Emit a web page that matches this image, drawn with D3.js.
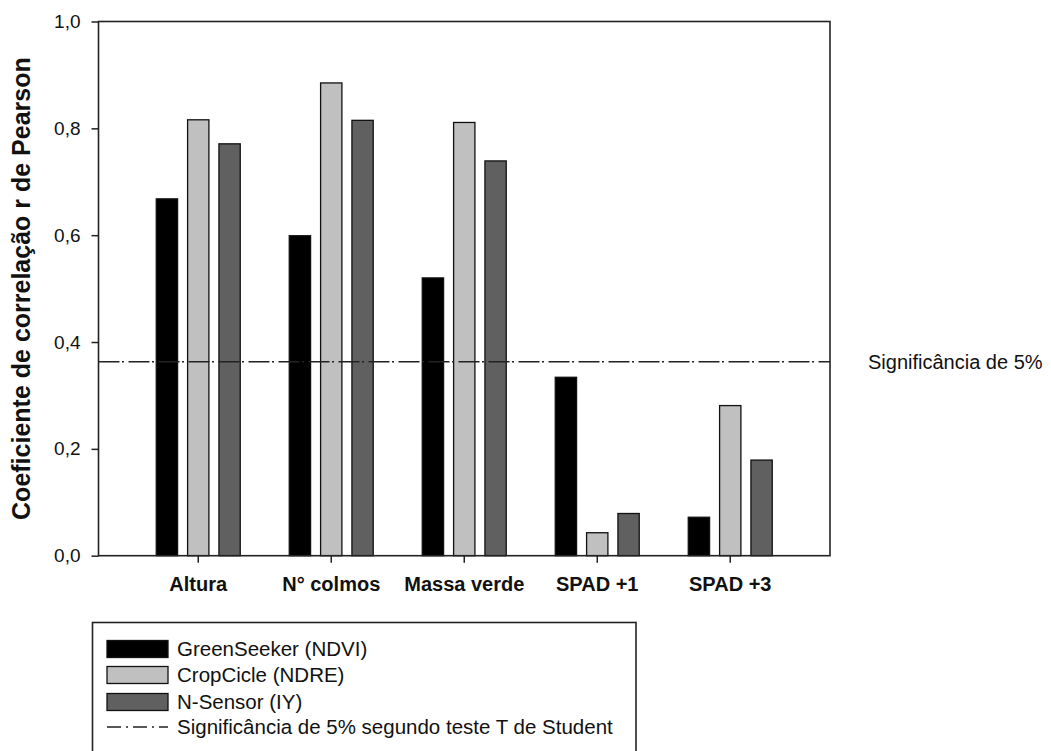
<!DOCTYPE html>
<html>
<head>
<meta charset="utf-8">
<script src="https://cdn.jsdelivr.net/npm/d3@7"></script>
<style>
  body { margin: 0; background: #fff; }
  svg { display: block; font-family: "Liberation Sans", Arial, sans-serif; }
</style>
</head>
<body>
<div id="chart"></div>
<script>
const categories = ['Altura', 'N° colmos', 'Massa verde', 'SPAD +1', 'SPAD +3'];
const seriesNames = ['GreenSeeker (NDVI)', 'CropCicle (NDRE)', 'N-Sensor (IY)'];
const greenSeeker = [0.668, 0.599, 0.520, 0.334, 0.072];
const cropCicle = [0.816, 0.885, 0.811, 0.043, 0.281];
const nSensor = [0.771, 0.815, 0.739, 0.079, 0.179];
const yTicks = [0, 0.2, 0.4, 0.6, 0.8, 1.0];
const significance = 0.363;
const significanceLabel = 'Significância de 5%';
const lineLegendLabel = 'Significância de 5% segundo teste T de Student';
const yTitle = 'Coeficiente de correlação r de Pearson';

const seriesValues = [greenSeeker, cropCicle, nSensor];
const fills = ['#000000', '#c0c0c0', '#606060'];

const width = 1051, height = 751;
const margin = { top: 21.5, right: 221, bottom: 195.3, left: 98.5 };

const svg = d3.select('#chart')
  .append('svg')
  .attr('width', width)
  .attr('height', height);

svg.append('rect').attr('width', width).attr('height', height).attr('fill', '#fff');

const x = d3.scaleBand()
  .domain(categories)
  .range([margin.left, width - margin.right])
  .paddingInner(0)
  .paddingOuter(0.25);

const groupWidth = 94;
const x1 = d3.scaleBand()
  .domain(seriesNames)
  .range([0, groupWidth])
  .paddingInner(0.32)
  .paddingOuter(0.16);

const y = d3.scaleLinear()
  .domain([0, 1])
  .range([height - margin.bottom, margin.top]);

// bars
const rows = [];
categories.forEach((c, i) => {
  seriesNames.forEach((s, j) => rows.push({ cat: c, name: s, value: seriesValues[j][i], fill: fills[j] }));
});

svg.append('g')
  .selectAll('rect')
  .data(rows)
  .join('rect')
  .attr('x', d => x(d.cat) + x.bandwidth() / 2 - groupWidth / 2 + x1(d.name))
  .attr('y', d => y(d.value))
  .attr('width', x1.bandwidth())
  .attr('height', d => y(0) - y(d.value))
  .attr('fill', d => d.fill)
  .attr('stroke', '#111')
  .attr('stroke-width', 1.3);

// significance line
svg.append('line')
  .attr('x1', margin.left)
  .attr('x2', width - margin.right)
  .attr('y1', y(significance))
  .attr('y2', y(significance))
  .attr('stroke', '#222')
  .attr('stroke-width', 1.5)
  .attr('stroke-dasharray', '21,2.5,2,4.5');

svg.append('text')
  .attr('x', 868)
  .attr('y', y(significance))
  .attr('dy', '0.35em')
  .attr('font-size', 20)
  .attr('fill', '#111')
  .text(significanceLabel);

// frame
svg.append('rect')
  .attr('x', margin.left)
  .attr('y', margin.top)
  .attr('width', width - margin.right - margin.left)
  .attr('height', height - margin.bottom - margin.top)
  .attr('fill', 'none')
  .attr('stroke', '#222')
  .attr('stroke-width', 1.6);

// axes
const fmt = d => d3.format('.1f')(d).replace('.', ',');

const yAxis = svg.append('g')
  .attr('transform', 'translate(' + margin.left + ',0)')
  .call(d3.axisLeft(y).tickValues(yTicks).tickFormat(fmt).tickSize(7).tickPadding(11));
yAxis.select('.domain').remove();
yAxis.selectAll('line').attr('stroke', '#222').attr('stroke-width', 1.5);
yAxis.selectAll('text').attr('font-size', 19).attr('fill', '#111').attr('font-family', '"Liberation Sans", Arial, sans-serif');

const xAxis = svg.append('g')
  .attr('transform', 'translate(0,' + (height - margin.bottom) + ')')
  .call(d3.axisBottom(x).tickSize(7).tickPadding(14));
xAxis.select('.domain').remove();
xAxis.selectAll('line').attr('stroke', '#222').attr('stroke-width', 1.5);
xAxis.selectAll('text').attr('font-size', 20).attr('font-weight', 'bold').attr('fill', '#111').attr('font-family', '"Liberation Sans", Arial, sans-serif');

// y title
svg.append('text')
  .attr('transform', 'translate(30,' + ((margin.top + height - margin.bottom) / 2) + ') rotate(-90)')
  .attr('text-anchor', 'middle')
  .attr('font-size', 25)
  .attr('font-weight', 'bold')
  .attr('fill', '#111')
  .text(yTitle);

// legend
const legend = svg.append('g');
legend.append('rect')
  .attr('x', 92.5).attr('y', 622.5)
  .attr('width', 543.5).attr('height', 140)
  .attr('fill', 'none').attr('stroke', '#222').attr('stroke-width', 1.6);

const rowY = [649, 675, 702, 727];
seriesNames.forEach((s, i) => {
  legend.append('rect')
    .attr('x', 107).attr('y', rowY[i] - 8.5)
    .attr('width', 61).attr('height', 17)
    .attr('fill', fills[i]).attr('stroke', '#111').attr('stroke-width', 1.3);
  legend.append('text')
    .attr('x', 177).attr('y', rowY[i]).attr('dy', '0.35em')
    .attr('font-size', 20.5).attr('fill', '#111')
    .text(s);
});
legend.append('line')
  .attr('x1', 107).attr('x2', 168)
  .attr('y1', rowY[3]).attr('y2', rowY[3])
  .attr('stroke', '#222').attr('stroke-width', 1.5)
  .attr('stroke-dasharray', '14,5,2,5');
legend.append('text')
  .attr('x', 177).attr('y', rowY[3]).attr('dy', '0.35em')
  .attr('font-size', 20.5).attr('fill', '#111')
  .text(lineLegendLabel);
</script>
</body>
</html>
